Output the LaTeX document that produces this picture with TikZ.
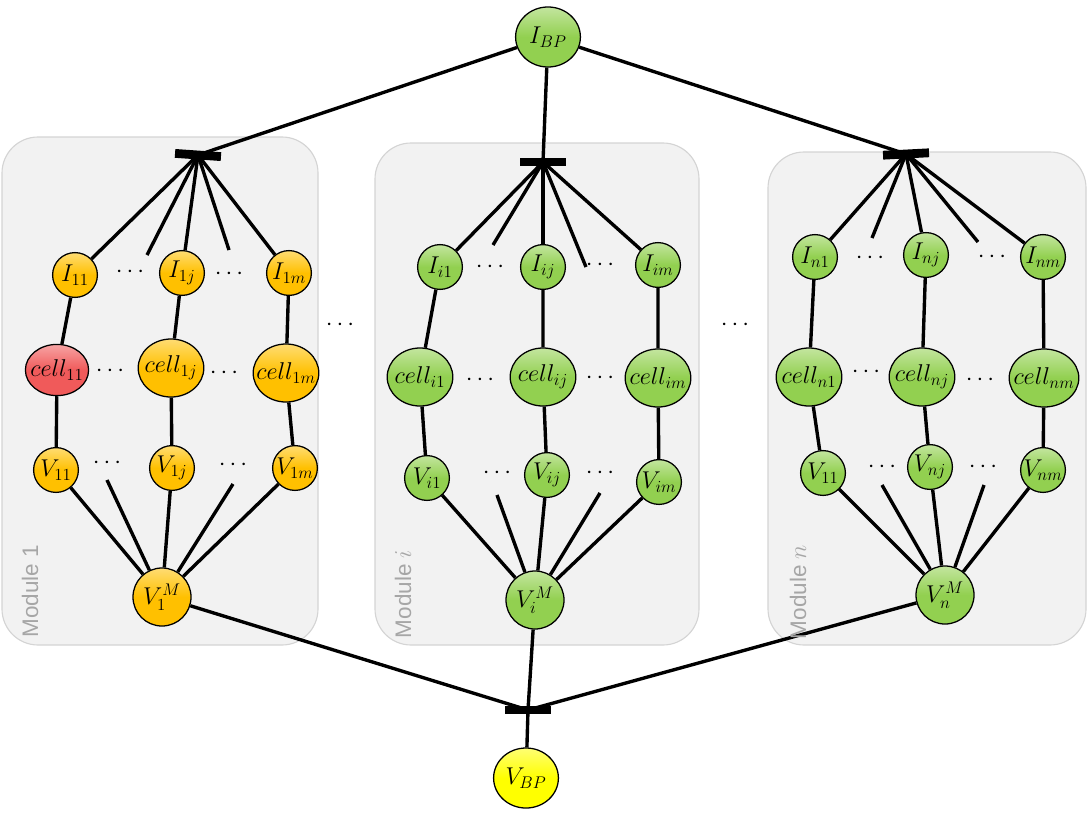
\documentclass[tikz,border=0pt]{standalone}
\usepackage{fontspec}
\newfontfamily\labelfont{Liberation Sans}
\usetikzlibrary{shapes.geometric}
\pgfdeclarelayer{back}
\pgfdeclarelayer{edges}
\pgfsetlayers{back,edges,main}
\definecolor{orng}{HTML}{FFC000}
\definecolor{grn}{HTML}{92D050}
\definecolor{rd}{HTML}{F05A5A}
\definecolor{ylw}{HTML}{FFFF00}
\definecolor{modfill}{HTML}{F2F2F2}
\definecolor{modline}{HTML}{D4D4D4}
\definecolor{modtext}{HTML}{A6A6A6}
\tikzset{
  x=0.025cm, y=-0.025cm,
  nd/.style={draw=black, line width=0.9pt, font=\fontsize{17}{20}\selectfont,
    top color=#1!55!white, bottom color=#1, middle color=#1},
  sm/.style={nd=#1, circle, inner sep=-3pt, minimum size=1.12cm},
  cellnd/.style={nd=#1, ellipse, inner xsep=-7pt, inner ysep=-1pt, minimum width=1.64cm, minimum height=1.45cm},
  big/.style={nd=#1, circle, inner sep=-3pt, minimum size=1.45cm},
  bpnd/.style={nd=#1, ellipse, inner sep=0pt, minimum width=1.62cm, minimum height=1.5cm},
  bar/.style={rectangle, fill=black, inner sep=0pt, minimum width=1.15cm, minimum height=0.22cm},
  dt/.style={inner sep=0pt, font=\fontsize{17}{20}\selectfont},
  edge/.style={line width=2.4pt},
  modbox/.style={fill=modfill, draw=modline, line width=0.8pt, rounded corners=0.9cm},
  modlabel/.style={rotate=90, text=modtext, font=\labelfont\fontsize{16}{19}\selectfont, inner sep=0pt},
}
\begin{document}
\begin{tikzpicture}
\useasboundingbox (0,0) rectangle (1090,822);
% module boxes
\begin{pgfonlayer}{back}
\draw[modbox] (2,137) rectangle (318,645);
\draw[modbox] (375,143) rectangle (699,645);
\draw[modbox] (768,152) rectangle (1086,645);
\end{pgfonlayer}
\node[modlabel] (lab1) at (30,591) {Module 1};
\node[modlabel] (labi) at (403,594) {Module $i$};
\node[modlabel] (labn) at (798,592) {Module $n$};

% top / bottom
\node[bpnd=grn] (IBP) at (548,37) {$I_{BP}$};
\node[bpnd=ylw] (VBP) at (526,778) {$V_{BP}$};
\node[bar] (bb) at (528,710) {};
\node[bar, rotate=-4] (bar1) at (198,155) {};
\node[bar] (bar2) at (543,162) {};
\node[bar, rotate=3] (bar3) at (906,154) {};
\node[dt] (m1) at (340,325) {$\cdots$};
\node[dt] (m2) at (735,325) {$\cdots$};

% module 1
\node[sm=orng] (I11) at (75,275) {$I_{11}$};
\node[sm=orng] (I1j) at (182,273) {$I_{1j}$};
\node[sm=orng] (I1m) at (289,273) {$I_{1m}$};
\node[cellnd=rd, minimum width=1.58cm, minimum height=1.28cm] (c11) at (57,370) {$cell_{11}$};
\node[cellnd=orng] (c1j) at (171,368) {$cell_{1j}$};
\node[cellnd=orng] (c1m) at (286,373) {$cell_{1m}$};
\node[sm=orng] (V11) at (56,470) {$V_{11}$};
\node[sm=orng] (V1j) at (172,468) {$V_{1j}$};
\node[sm=orng] (V1m) at (295,468) {$V_{1m}$};
\node[big=orng] (V1M) at (162,597) {$V_{1}^{M}$};
\node[dt] (d1a) at (130,272) {$\cdots$};
\node[dt] (d1b) at (229,274) {$\cdots$};
\node[dt] (d1c) at (110,371) {$\cdots$};
\node[dt] (d1d) at (224,373) {$\cdots$};
\node[dt] (d1e) at (107,463) {$\cdots$};
\node[dt] (d1f) at (233,465) {$\cdots$};
\coordinate (s1a) at (147,255);
\coordinate (s1b) at (229,250);
\coordinate (s1c) at (107,480);
\coordinate (s1d) at (233,484);

% module i
\node[sm=grn] (Ii1) at (440,267) {$I_{i1}$};
\node[sm=grn] (Iij) at (543,267) {$I_{ij}$};
\node[sm=grn] (Iim) at (658,265) {$I_{im}$};
\node[cellnd=grn] (ci1) at (420,377) {$cell_{i1}$};
\node[cellnd=grn] (cij) at (543,377) {$cell_{ij}$};
\node[cellnd=grn] (cim) at (658,378) {$cell_{im}$};
\node[sm=grn] (Vi1) at (427,478) {$V_{i1}$};
\node[sm=grn] (Vij) at (547,475) {$V_{ij}$};
\node[sm=grn] (Vim) at (659,482) {$V_{im}$};
\node[big=grn] (ViM) at (535,600) {$V_{i}^{M}$};
\node[dt] (dia) at (490,267) {$\cdots$};
\node[dt] (dib) at (600,265) {$\cdots$};
\node[dt] (dic) at (480,380) {$\cdots$};
\node[dt] (did) at (600,378) {$\cdots$};
\node[dt] (die) at (497,473) {$\cdots$};
\node[dt] (dif) at (600,473) {$\cdots$};
\coordinate (sia) at (493,245);
\coordinate (sib) at (586,267);
\coordinate (sic) at (497,495);
\coordinate (sid) at (600,493);

% module n
\node[sm=grn] (In1) at (815,257) {$I_{n1}$};
\node[sm=grn] (Inj) at (926,255) {$I_{nj}$};
\node[sm=grn] (Inm) at (1043,257) {$I_{nm}$};
\node[cellnd=grn] (cn1) at (809,377) {$cell_{n1}$};
\node[cellnd=grn] (cnj) at (922,377) {$cell_{nj}$};
\node[cellnd=grn, minimum width=1.74cm] (cnm) at (1044,378) {$cell_{nm}$};
\node[sm=grn] (Vn1) at (823,473) {$V_{11}$};
\node[sm=grn] (Vnj) at (930,467) {$V_{nj}$};
\node[sm=grn] (Vnm) at (1043,470) {$V_{nm}$};
\node[big=grn] (VnM) at (945,595) {$V_{n}^{M}$};
\node[dt] (dna) at (870,258) {$\cdots$};
\node[dt] (dnb) at (992,257) {$\cdots$};
\node[dt] (dnc) at (866,372) {$\cdots$};
\node[dt] (dnd) at (980,380) {$\cdots$};
\node[dt] (dne) at (882,467) {$\cdots$};
\node[dt] (dnf) at (983,467) {$\cdots$};
\coordinate (sna) at (872,238);
\coordinate (snb) at (978,242);
\coordinate (snc) at (882,485);
\coordinate (snd) at (984,485);

\begin{pgfonlayer}{edges}
\draw[edge] (IBP) -- (bar1.center);
\draw[edge] (IBP) -- (bar2.center);
\draw[edge] (IBP) -- (bar3.center);
\draw[edge] (V1M) -- (bb.center);
\draw[edge] (ViM) -- (bb.center);
\draw[edge] (VnM) -- (bb.center);
\draw[edge] (bb.center) -- (VBP);
% module 1
\draw[edge] (bar1.center) -- (I11);
\draw[edge] (bar1.center) -- (s1a);
\draw[edge] (bar1.center) -- (I1j);
\draw[edge] (bar1.center) -- (s1b);
\draw[edge] (bar1.center) -- (I1m);
\draw[edge] (I11) -- (c11) -- (V11) -- (V1M);
\draw[edge] (I1j) -- (c1j) -- (V1j) -- (V1M);
\draw[edge] (I1m) -- (c1m) -- (V1m) -- (V1M);
\draw[edge] (V1M) -- (s1c);
\draw[edge] (V1M) -- (s1d);
% module i
\draw[edge] (bar2.center) -- (Ii1);
\draw[edge] (bar2.center) -- (sia);
\draw[edge] (bar2.center) -- (Iij);
\draw[edge] (bar2.center) -- (sib);
\draw[edge] (bar2.center) -- (Iim);
\draw[edge] (Ii1) -- (ci1) -- (Vi1) -- (ViM);
\draw[edge] (Iij) -- (cij) -- (Vij) -- (ViM);
\draw[edge] (Iim) -- (cim) -- (Vim) -- (ViM);
\draw[edge] (ViM) -- (sic);
\draw[edge] (ViM) -- (sid);
% module n
\draw[edge] (bar3.center) -- (In1);
\draw[edge] (bar3.center) -- (sna);
\draw[edge] (bar3.center) -- (Inj);
\draw[edge] (bar3.center) -- (snb);
\draw[edge] (bar3.center) -- (Inm);
\draw[edge] (In1) -- (cn1) -- (Vn1) -- (VnM);
\draw[edge] (Inj) -- (cnj) -- (Vnj) -- (VnM);
\draw[edge] (Inm) -- (cnm) -- (Vnm) -- (VnM);
\draw[edge] (VnM) -- (snc);
\draw[edge] (VnM) -- (snd);
\end{pgfonlayer}
\end{tikzpicture}
\end{document}
